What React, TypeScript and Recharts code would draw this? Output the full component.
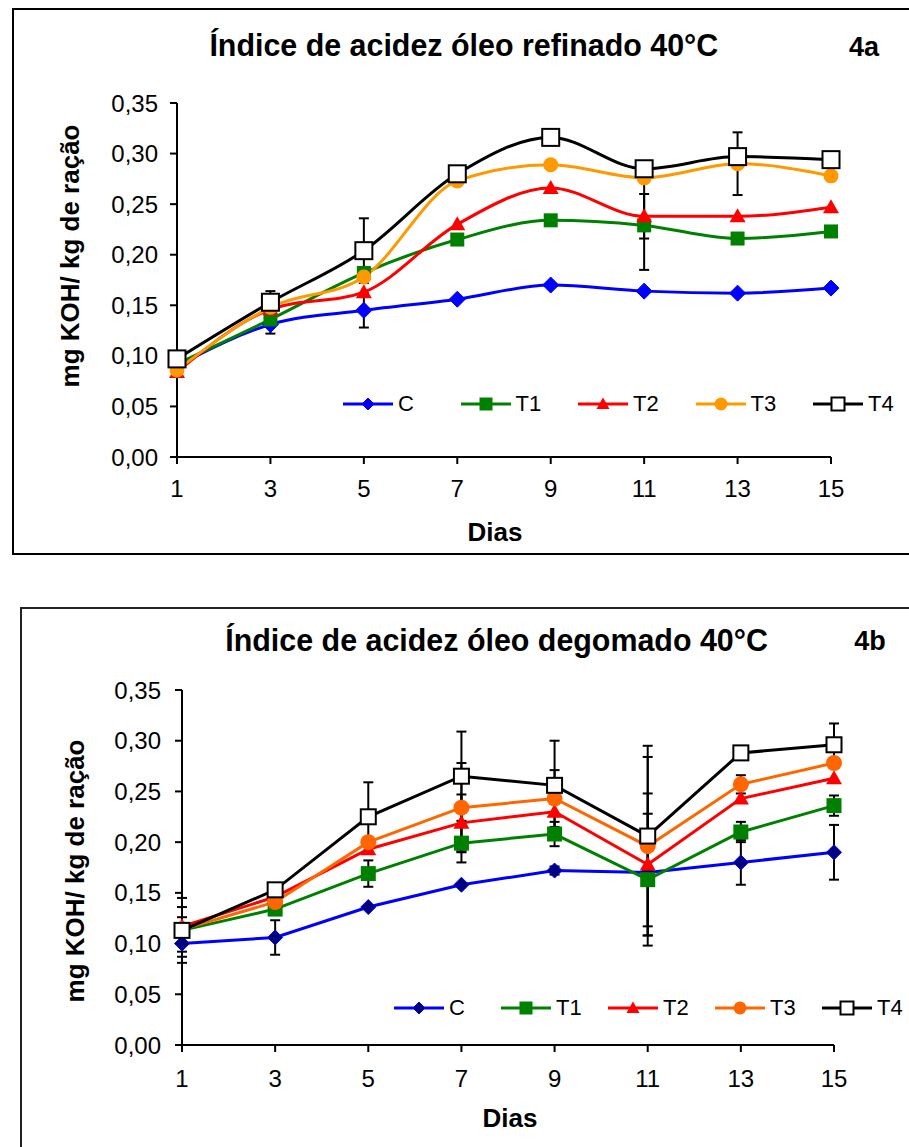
import React from "react";
import { LineChart, Line, XAxis, YAxis, ErrorBar } from "recharts";

const days = [1, 3, 5, 7, 9, 11, 13, 15];
const yTicks = [0, 0.05, 0.1, 0.15, 0.2, 0.25, 0.3, 0.35];
const seriesNames = ["C", "T1", "T2", "T3", "T4"];

// 4a - óleo refinado
const refC = [0.09, 0.131, 0.145, 0.156, 0.17, 0.164, 0.162, 0.167];
const refT1 = [0.092, 0.136, 0.182, 0.215, 0.234, 0.229, 0.216, 0.223];
const refT2 = [0.084, 0.146, 0.163, 0.23, 0.266, 0.238, 0.238, 0.247];
const refT3 = [0.086, 0.148, 0.178, 0.273, 0.289, 0.276, 0.29, 0.278];
const refT4 = [0.097, 0.153, 0.204, 0.28, 0.316, 0.285, 0.297, 0.294];
const refCErr = [null, 0.009, 0.017, null, null, null, null, null];
const refT1Err = [null, null, null, null, null, 0.044, null, null];
const refT2Err = [null, null, null, null, null, 0.022, null, null];
const refT3Err = [null, null, null, null, null, null, 0.031, null];
const refT4Err = [null, 0.011, 0.032, null, null, null, null, null];

// 4b - óleo degomado
const degC = [0.1, 0.106, 0.136, 0.158, 0.172, 0.17, 0.18, 0.19];
const degT1 = [0.113, 0.134, 0.169, 0.199, 0.208, 0.163, 0.21, 0.236];
const degT2 = [0.117, 0.146, 0.193, 0.219, 0.23, 0.178, 0.243, 0.263];
const degT3 = [0.114, 0.141, 0.2, 0.234, 0.243, 0.196, 0.257, 0.278];
const degT4 = [0.113, 0.153, 0.225, 0.265, 0.256, 0.206, 0.288, 0.296];
const degCErr = [0.013, 0.017, null, null, 0.004, null, 0.022, 0.027];
const degT1Err = [0.013, null, 0.013, 0.019, 0.012, 0.065, 0.01, 0.01];
const degT2Err = [null, null, null, 0.028, null, 0.07, null, null];
const degT3Err = [0.022, null, null, 0.044, 0.028, 0.088, 0.009, null];
const degT4Err = [0.032, null, 0.034, 0.044, 0.044, 0.089, null, 0.021];

const FONT = "'Liberation Sans', Arial, sans-serif";

type Shape = "diamond" | "square" | "triangle" | "circle" | "hollow";
interface Style {
  color: string;
  shape: Shape;
  fill: string;
  size: number;
}

const refStyles: Style[] = [
  { color: "#0000FF", shape: "diamond", fill: "#0000FF", size: 16 },
  { color: "#008000", shape: "square", fill: "#008000", size: 14 },
  { color: "#FF0000", shape: "triangle", fill: "#FF0000", size: 16 },
  { color: "#FF9900", shape: "circle", fill: "#FF9900", size: 15 },
  { color: "#000000", shape: "hollow", fill: "#FFFFFF", size: 17 },
];
const degStyles: Style[] = [
  { color: "#0000FF", shape: "diamond", fill: "#000080", size: 15 },
  { color: "#008000", shape: "square", fill: "#008000", size: 15 },
  { color: "#FF0000", shape: "triangle", fill: "#FF0000", size: 16 },
  { color: "#FF6600", shape: "circle", fill: "#FF6600", size: 16 },
  { color: "#000000", shape: "hollow", fill: "#FFFFFF", size: 15 },
];

function Marker({ cx, cy, s }: { cx: number; cy: number; s: Style }) {
  const r = s.size / 2;
  if (cx == null || cy == null) return null;
  switch (s.shape) {
    case "diamond":
      return (
        <polygon
          points={`${cx},${cy - r} ${cx + r},${cy} ${cx},${cy + r} ${cx - r},${cy}`}
          fill={s.fill}
          stroke={s.color}
          strokeWidth={1}
        />
      );
    case "square":
      return <rect x={cx - r} y={cy - r} width={s.size} height={s.size} fill={s.fill} />;
    case "triangle":
      return (
        <polygon
          points={`${cx},${cy - r} ${cx + r},${cy + r * 0.75} ${cx - r},${cy + r * 0.75}`}
          fill={s.fill}
        />
      );
    case "circle":
      return <circle cx={cx} cy={cy} r={r} fill={s.fill} />;
    default:
      return (
        <rect
          x={cx - r}
          y={cy - r}
          width={s.size}
          height={s.size}
          fill="#FFFFFF"
          stroke="#000000"
          strokeWidth={2}
        />
      );
  }
}

function buildRows(vals: number[][], errs: (number | null)[][]) {
  return days.map((d, i) => {
    const row: any = { day: d };
    seriesNames.forEach((n, k) => {
      row[n] = vals[k][i];
      row[n + "e"] = errs[k][i];
    });
    return row;
  });
}

const refRows = buildRows(
  [refC, refT1, refT2, refT3, refT4],
  [refCErr, refT1Err, refT2Err, refT3Err, refT4Err]
);
const degRows = buildRows(
  [degC, degT1, degT2, degT3, degT4],
  [degCErr, degT1Err, degT2Err, degT3Err, degT4Err]
);

const fmt = (v: number) => v.toFixed(2).replace(".", ",");

function LegendRow({
  styles,
  left,
  top,
  step,
}: {
  styles: Style[];
  left: number;
  top: number;
  step: number;
}) {
  return (
    <>
      {seriesNames.map((n, i) => {
        const s = styles[i];
        const mini = { ...s, size: s.shape === "diamond" ? 12 : 13 };
        return (
          <div
            key={n}
            style={{
              position: "absolute",
              left: left + i * step,
              top: top - 12,
              height: 24,
              display: "flex",
              alignItems: "center",
              fontSize: 22,
            }}
          >
            <svg width={50} height={24}>
              <line x1={0} y1={12} x2={50} y2={12} stroke={s.color} strokeWidth={3} />
              <Marker cx={25} cy={12} s={mini} />
            </svg>
            <span style={{ marginLeft: 5 }}>{n}</span>
          </div>
        );
      })}
    </>
  );
}

function Panel({
  rows,
  styles,
  curve,
  top,
  height,
  plotTop,
  plotBottom,
  plotLeft,
  plotRight,
  yMargin,
  xMargin,
}: {
  rows: any[];
  styles: Style[];
  curve: "monotone" | "linear";
  top: number;
  height: number;
  plotTop: number;
  plotBottom: number;
  plotLeft: number;
  plotRight: number;
  yMargin: number;
  xMargin: number;
}) {
  return (
    <div style={{ position: "absolute", left: 0, top, width: 909, height }}>
      <LineChart
        width={909}
        height={height}
        data={rows}
        margin={{
          top: plotTop,
          bottom: height - plotBottom - 30,
          left: plotLeft - 60,
          right: 909 - plotRight,
        }}
      >
        <XAxis
          dataKey="day"
          type="number"
          domain={[1, 15]}
          ticks={days}
          height={30}
          stroke="#000"
          strokeWidth={2}
          tickSize={7}
          tickMargin={xMargin}
          tick={{ fill: "#000", fontSize: 24, fontFamily: FONT }}
        />
        <YAxis
          type="number"
          domain={[0, 0.35]}
          ticks={yTicks}
          width={60}
          stroke="#000"
          strokeWidth={2}
          tickSize={7}
          tickMargin={yMargin}
          tickFormatter={fmt}
          tick={{ fill: "#000", fontSize: 24, fontFamily: FONT }}
        />
        {seriesNames.map((n, i) => (
          <Line
            key={n}
            dataKey={n}
            type={curve}
            stroke={styles[i].color}
            strokeWidth={3}
            isAnimationActive={false}
            dot={(p: any) => (
              <Marker key={`${n}-${p.index}`} cx={p.cx} cy={p.cy} s={styles[i]} />
            )}
          >
            <ErrorBar
              dataKey={n + "e"}
              direction="y"
              width={5}
              stroke="#000"
              strokeWidth={2}
            />
          </Line>
        ))}
      </LineChart>
    </div>
  );
}

function Title({ text, cx, cy }: { text: string; cx: number; cy: number }) {
  return (
    <div
      style={{
        position: "absolute",
        left: cx - 400,
        top: cy - 20,
        width: 800,
        height: 40,
        textAlign: "center",
        lineHeight: "40px",
        fontSize: 32,
        fontWeight: "bold",
      }}
    >
      <span style={{ display: "inline-block", transform: "scaleX(0.95)" }}>{text}</span>
    </div>
  );
}

function YLabel({ cx, cy }: { cx: number; cy: number }) {
  return (
    <div
      style={{
        position: "absolute",
        left: cx - 200,
        top: cy - 16,
        width: 400,
        height: 32,
        lineHeight: "32px",
        textAlign: "center",
        fontSize: 26,
        fontWeight: "bold",
        transform: "rotate(-90deg)",
      }}
    >
      mg KOH/ kg de ração
    </div>
  );
}

function Text({
  text,
  cx,
  cy,
  size,
}: {
  text: string;
  cx: number;
  cy: number;
  size: number;
}) {
  return (
    <div
      style={{
        position: "absolute",
        left: cx - 100,
        top: cy - 20,
        width: 200,
        height: 40,
        lineHeight: "40px",
        textAlign: "center",
        fontSize: size,
        fontWeight: "bold",
      }}
    >
      {text}
    </div>
  );
}

export default function App() {
  return (
    <div
      style={{
        position: "absolute",
        left: 0,
        top: 0,
        width: 909,
        height: 1147,
        overflow: "hidden",
        background: "#fff",
        fontFamily: FONT,
        color: "#000",
      }}
    >
      <div
        style={{
          position: "absolute",
          left: 12,
          top: 8,
          width: 920,
          height: 547,
          border: "2px solid #000",
          boxSizing: "border-box",
        }}
      />
      <div
        style={{
          position: "absolute",
          left: 20,
          top: 607,
          width: 920,
          height: 600,
          border: "2px solid #222",
          boxSizing: "border-box",
        }}
      />

      <Panel
        rows={refRows}
        styles={refStyles}
        curve="monotone"
        top={0}
        height={560}
        plotTop={103}
        plotBottom={457}
        plotLeft={177}
        plotRight={831}
        yMargin={12}
        xMargin={16}
      />
      <Panel
        rows={degRows}
        styles={degStyles}
        curve="linear"
        top={600}
        height={547}
        plotTop={90}
        plotBottom={445}
        plotLeft={182}
        plotRight={834}
        yMargin={14}
        xMargin={18}
      />

      <Title text="Índice de acidez óleo refinado 40°C" cx={464} cy={45} />
      <Text text="4a" cx={864} cy={47} size={27} />
      <YLabel cx={70} cy={256} />
      <Text text="Dias" cx={495} cy={532} size={26} />
      <LegendRow styles={refStyles} left={343} top={404} step={117.5} />

      <Title text="Índice de acidez óleo degomado 40°C" cx={497} cy={640} />
      <Text text="4b" cx={870} cy={641} size={27} />
      <YLabel cx={75} cy={871} />
      <Text text="Dias" cx={510} cy={1118} size={26} />
      <LegendRow styles={degStyles} left={394} top={1008} step={107} />
    </div>
  );
}
